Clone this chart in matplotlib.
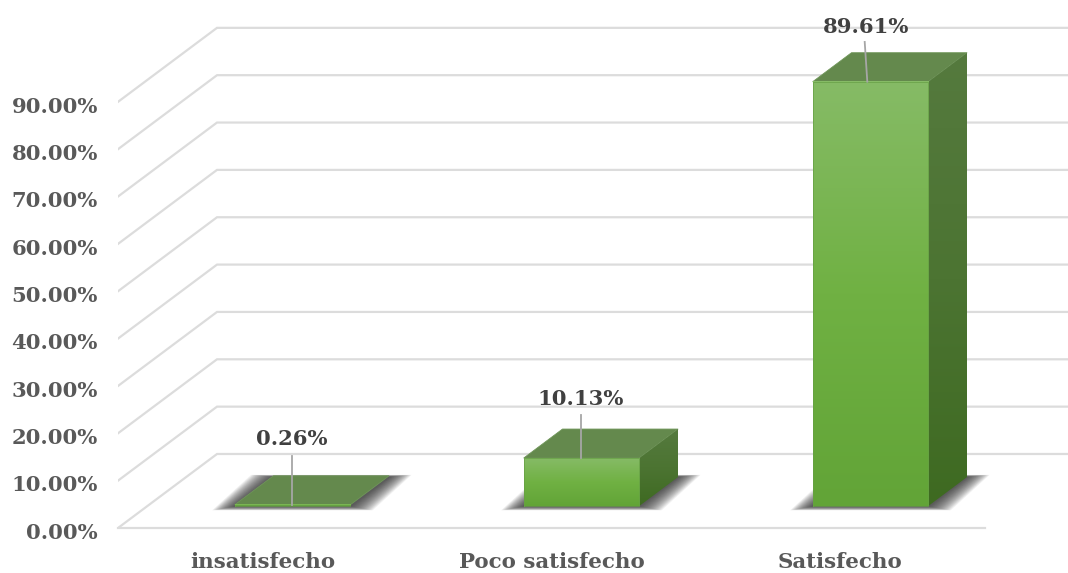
import numpy as np
import matplotlib
matplotlib.use('Agg')
import matplotlib.pyplot as plt
from matplotlib.colors import LinearSegmentedColormap
from matplotlib.patches import Polygon
from matplotlib.transforms import ScaledTranslation

# Data
categories = ['insatisfecho', 'Poco satisfecho', 'Satisfecho']
values = [0.26, 10.13, 89.61]
value_labels = ['0.26%', '10.13%', '89.61%']
y_ticks = [0, 10, 20, 30, 40, 50, 60, 70, 80, 90]
y_tick_labels = ['0.00%', '10.00%', '20.00%', '30.00%', '40.00%',
                 '50.00%', '60.00%', '70.00%', '80.00%', '90.00%']

# Fake 3D: depth shifts things right and up
DEPTH_X = 0.3426
DEPTH_Y = 15.63
BAR_WIDTH = 0.4
D_FRONT = 0.297
D_BACK = 0.689


def proj(x, y, d):
    return x + d * DEPTH_X, y + d * DEPTH_Y


plt.rcParams['font.family'] = ['DejaVu Serif']
plt.rcParams['font.weight'] = 'bold'

fig = plt.figure(figsize=(10.68, 5.73), dpi=100)
ax = fig.add_axes([118 / 1068, 45 / 573, 950 / 1068, 528 / 573])
x_left = -0.5
x_right = x_left + 950 / 289
y_top = 528 / 4.735

for s in ax.spines.values():
    s.set_visible(False)
ax.patch.set_alpha(0)

# Side wall and back wall grid lines
grid_col = '#dcdcdc'
for t in y_ticks:
    x0, y0 = proj(x_left, t, 0)
    x1, y1 = proj(x_left, t, 1)
    ax.plot([x0, x1, x_right + 1], [y0, y1, y1], color=grid_col, lw=1.6, zorder=1,
            solid_joinstyle='miter')
# floor front edge
ax.plot([x_left, x_left + 3], [0, 0], color=grid_col, lw=1.6, zorder=1, clip_on=False)

front_cmap = LinearSegmentedColormap.from_list('front', ['#86BB66', '#70B143', '#62A437'])
side_cmap = LinearSegmentedColormap.from_list('side', ['#557A3E', '#4C7432', '#3E6A21'])
grad = np.linspace(0, 1, 256).reshape(-1, 1)

for i, v in enumerate(values):
    cx = i + 0.002
    l, r = cx - BAR_WIDTH / 2, cx + BAR_WIDTH / 2

    # soft shadow on the floor, stacked polygons to fake the blur
    for k in range(26):
        e = 0.078 - k * 0.003
        ey = 0.9 - k * 0.032
        a = proj(l - e, -ey, D_FRONT)
        b = proj(r + e, -ey, D_FRONT)
        c = proj(r + e, ey * 0.5, D_BACK)
        d = proj(l - e, ey * 0.5, D_BACK)
        ax.add_patch(Polygon([a, b, c, d], closed=True, fc='#2a2a2a', ec='none',
                             alpha=0.05, zorder=2))

    fl, fb = proj(l, 0, D_FRONT)
    fr, ft = proj(r, v, D_FRONT)
    bl, bb = proj(l, 0, D_BACK)
    br, bt = proj(r, v, D_BACK)
    fr0 = proj(r, 0, D_FRONT)[0]

    # top face
    ax.add_patch(Polygon([(fl, ft), (fr, ft), (br, bt), (bl, bt)], closed=True,
                         fc='#64894D', ec='#6f9659', lw=0.6, zorder=3))

    if v > 1:
        # side face with gradient
        side = Polygon([(fr0, fb), (br, bb), (br, bt), (fr, ft)], closed=True,
                       fc='none', ec='none', transform=ax.transData)
        ax.add_patch(side)
        im = ax.imshow(grad, cmap=side_cmap, aspect='auto', zorder=3,
                       extent=[fr0, br, fb, bt], interpolation='bilinear')
        im.set_clip_path(side)

    # front face with gradient
    ax.imshow(grad, cmap=front_cmap, aspect='auto', zorder=4,
              extent=[fl, fr, fb, ft], interpolation='bilinear')
    ax.plot([fl, fr, fr, fl, fl], [fb, fb, ft, ft, fb], color='#66a045', lw=0.5, zorder=5)

# data labels with leader lines
label_up = [13.8, 12.4, 11.5]
leader_up = [10.4, 9.1, 8.4]
leader_dx = [0, 0, -0.009]
label_dx = [0, 0, -0.005]
for i, v in enumerate(values):
    cx = i - 0.001 - (0.008 if i == 2 else 0)
    x0, y0 = proj(cx, v, D_FRONT)
    ax.plot([x0, x0 + leader_dx[i]], [y0, y0 + leader_up[i]], color='#a6a6a6', lw=1.3, zorder=6)
    ax.text(x0 + label_dx[i], y0 + label_up[i], value_labels[i], ha='center', va='center',
            fontsize=15.2, color='#404040', fontweight='bold', zorder=7, clip_on=False)

ax.set_xlim(x_left, x_right)
ax.set_ylim(0, y_top)
ax.set_xticks(range(len(categories)))
ax.set_xticklabels(categories, fontsize=15.4, color='#595959', fontweight='bold')
ax.set_yticks(y_ticks)
ax.set_yticklabels(y_tick_labels, fontsize=15.2, color='#595959', fontweight='bold')
ax.tick_params(axis='both', length=0)
ax.tick_params(axis='x', pad=17.5)
ax.tick_params(axis='y', pad=14.5)

# y labels sit a bit below the front end of the grid lines
shift = ScaledTranslation(0, -2 / 72, fig.dpi_scale_trans)
for lab in ax.get_yticklabels():
    lab.set_transform(lab.get_transform() + shift)

fig.savefig('out.png', dpi=100)
